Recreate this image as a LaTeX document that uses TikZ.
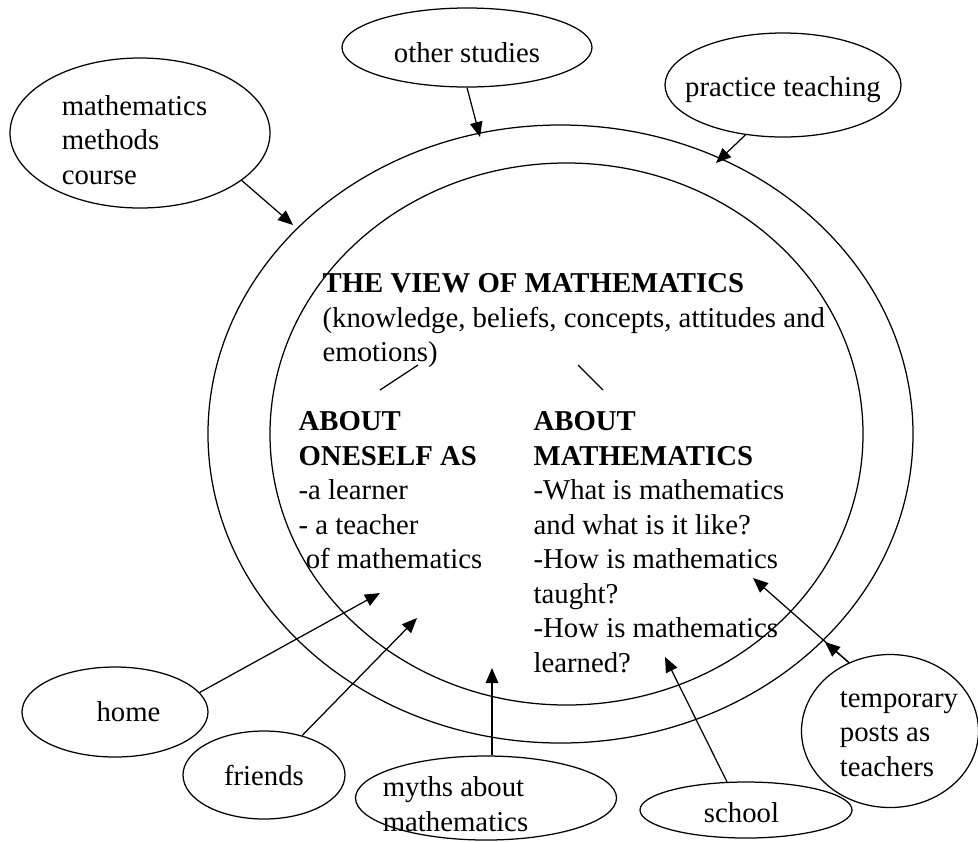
\documentclass[tikz,border=0pt]{standalone}
\usepackage{fontspec}
\setmainfont{Liberation Serif}
\usetikzlibrary{shapes.geometric,arrows.meta}

\tikzset{
  bubble/.style={draw, ellipse, inner sep=0pt},
  feed/.style={-{Triangle[length=6pt,width=5pt]}},
  txt/.style={inner sep=0pt, align=left, anchor=north west},
}

\begin{document}
\begin{tikzpicture}[x=0.4pt, y=-0.4pt, line width=0.5pt,
  every node/.style={font=\fontsize{11.5}{13.8}\selectfont},
  every label/.style={inner sep=0pt, align=left}]
\useasboundingbox (0,0) rectangle (978,841);

% the two rings
\node[bubble, minimum width=282pt, minimum height=247.2pt] (outer) at (560.5,434) {};
\node[bubble, minimum width=237.2pt, minimum height=216.8pt] (inner) at (566.5,434) {};

\node[txt] (view) at (322,273) {\textbf{THE VIEW OF MATHEMATICS}\\(knowledge, beliefs, concepts, attitudes and\\emotions)};
\node[txt] (oneself) at (298,411) {\textbf{ABOUT}\\\textbf{ONESELF AS}\\-a learner\\- a teacher\\\hspace*{0.25em}of mathematics};
\node[txt] (aboutmath) at (533,411) {\textbf{ABOUT}\\\textbf{MATHEMATICS}\\-What is mathematics\\and what is it like?\\-How is mathematics\\taught?\\-How is mathematics\\learned?};

\coordinate (forkL) at (418,365);
\coordinate (forkLend) at (380,390);
\coordinate (forkR) at (578,365);
\coordinate (forkRend) at (603,390);
\draw (forkL) -- (forkLend);
\draw (forkR) -- (forkRend);

% influences
\node[bubble, minimum width=104pt, minimum height=60pt,
  label={[xshift=-2.2pt,yshift=-2.8pt]center:mathematics\\methods\\course}] (methods) at (140,133) {};
\node[bubble, minimum width=100pt, minimum height=31.6pt,
  label={[yshift=-2pt]center:other studies}] (other) at (467,47.5) {};
\node[bubble, minimum width=94.4pt, minimum height=41.6pt,
  label={[yshift=-2pt]center:practice teaching}] (practice) at (783,85) {};
\node[bubble, minimum width=74.4pt, minimum height=36pt,
  label={[xshift=5.4pt]center:home}] (home) at (115,712) {};
\node[bubble, minimum width=64.8pt, minimum height=35.2pt,
  label={center:friends}] (friends) at (264,775) {};
\node[bubble, minimum width=104.4pt, minimum height=33.6pt,
  label={[xshift=-12.2pt,yshift=-2.4pt]center:myths about\\mathematics}] (myths) at (486,798) {};
\node[bubble, minimum width=84.8pt, minimum height=22.4pt,
  label={[xshift=-1.8pt,yshift=-1.2pt]center:school}] (school) at (746,810) {};
\node[bubble, minimum width=70.8pt, minimum height=61.2pt,
  label={[xshift=3.6pt,yshift=-1.2pt]center:temporary\\posts as\\teachers}] (temporary) at (890,731) {};

\coordinate (methodstip) at (293,225);
\coordinate (othertip) at (480,137);
\coordinate (practicetip) at (716,163);
\coordinate (hometip) at (380,593);
\coordinate (friendstip) at (417,618);
\coordinate (mythstip) at (492,668);
\coordinate (schooltip) at (665,657);
\coordinate (temptip) at (753,578);
\coordinate (tempring) at (825,642);

\draw[feed] (methods.-25) -- (methodstip);
\draw[feed] (other.south) -- (othertip);
\draw[feed] (practice.-127) -- (practicetip);
\draw[feed] (home.13) -- (hometip);
\draw[feed] (friends.46) -- (friendstip);
\draw[feed] (mythstip |- myths.north) -- (mythstip);
\draw[feed] (school.124) -- (schooltip);
\draw[feed] (temporary.121) -- (temptip);
\draw[feed] (temporary.121) -- (tempring);

\end{tikzpicture}
\end{document}
